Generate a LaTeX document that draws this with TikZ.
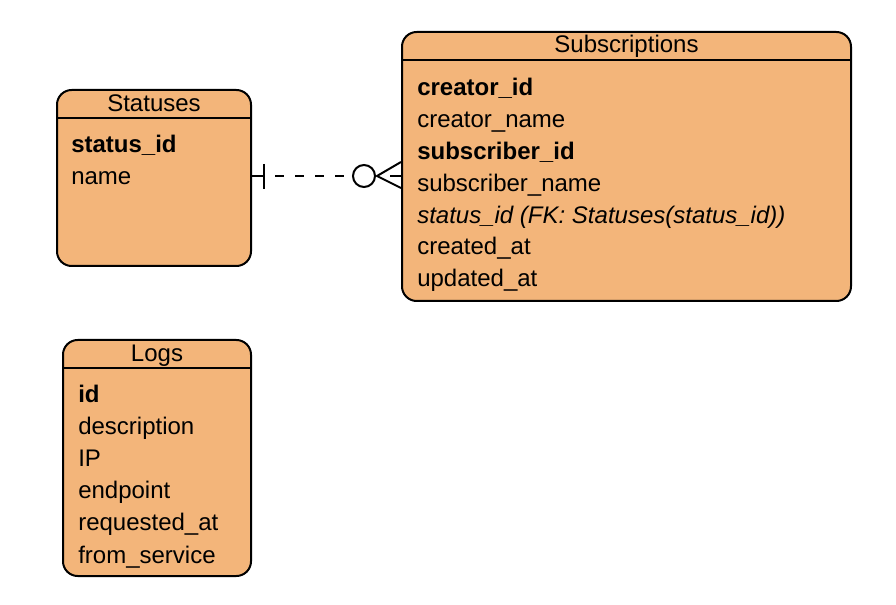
\documentclass[tikz,border=0pt]{standalone}
\usepackage{fontspec}
\setmainfont{Liberation Sans}
\usetikzlibrary{positioning}

\definecolor{tablefill}{RGB}{243,181,122}

\begin{document}
\begin{tikzpicture} [x=0.75pt,y=-0.75pt,
		table/.style={rectangle,rounded corners=11pt,draw=black,line width=1.5pt,fill=tablefill,inner sep=0pt},
		rowtext/.style={anchor=base west,inner sep=0pt,font=\fontsize{18}{20}\selectfont},
		keytext/.style={rowtext,font=\fontsize{18}{20}\selectfont\bfseries},
		fktext/.style={rowtext,font=\fontsize{18}{20}\selectfont\itshape},
		titletext/.style={anchor=base,inner sep=0pt,font=\fontsize{18}{20}\selectfont},
		relline/.style={line width=1.5pt,black}]
		
		\useasboundingbox (0,0) rectangle (896,605);
		
		% Tables
		\node[table,minimum width=145.5pt,minimum height=132pt] (statuses) at (154,178) {}; % statuses
		\node[table,minimum width=336.75pt,minimum height=201.75pt] (subs) at (626.5,166.5) {}; % subscriptions
		\node[table,minimum width=141pt,minimum height=177pt] (logs) at (157,458) {}; % logs
		
		% Header lines
		\draw[relline] (statuses.west |- 0,118) -- (statuses.east |- 0,118);
		\draw[relline] (subs.west |- 0,60) -- (subs.east |- 0,60);
		\draw[relline] (logs.west |- 0,368) -- (logs.east |- 0,368);
		
		% Titles
		\node[titletext] (statusestitle) at (154,112) {Statuses};
		\node[titletext] (substitle) at (626.5,53) {Subscriptions};
		\node[titletext] (logstitle) at (157,362) {Logs};
		
		% Fields of statuses
		\node[keytext] (statusid) at (71,153) {status\_id};
		\node[rowtext] (statusname) at (71,185) {name};
		
		% Fields of subscriptions
		\node[keytext] (creatorid) at (417,96) {creator\_id};
		\node[rowtext] (creatorname) at (417,128) {creator\_name};
		\node[keytext] (subscriberid) at (417,160) {subscriber\_id};
		\node[rowtext] (subscribername) at (417,192) {subscriber\_name};
		\node[fktext] (substatus) at (417,224) {status\_id (FK: Statuses(status\_id))};
		\node[rowtext] (createdat) at (417,255) {created\_at};
		\node[rowtext] (updatedat) at (417,287) {updated\_at};
		
		% Fields of logs
		\node[keytext] (logid) at (78,403) {id};
		\node[rowtext] (description) at (78,435) {description};
		\node[rowtext] (ip) at (78,467) {IP};
		\node[rowtext] (endpoint) at (78,499) {endpoint};
		\node[rowtext] (requestedat) at (78,531) {requested\_at};
		\node[rowtext] (fromservice) at (78,563) {from\_service};
		
		% Relation statuses -- subscriptions
		\coordinate (relstart) at (statuses.east |- 0,176);
		\coordinate (relend) at (subs.west |- 0,176);
		\coordinate (onebar) at (264,176);
		\coordinate (crowtip) at (377,176);
		\node[circle,draw,line width=1.5pt,fill=white,minimum size=16.5pt,inner sep=0pt] (zero) at (364,176) {};
		\draw[relline] (relstart) -- (onebar);
		\draw[relline] (onebar) ++(0,-12) -- ++(0,25); % one bar
		\draw[relline,dash pattern=on 6.75pt off 8.25pt,dash phase=6.75pt] (onebar) -- (zero.west);
		\draw[relline] (relend) ++(0,-14) -- (crowtip) -- ([yshift=-9pt]relend); % crow foot
		\draw[relline] (relend) -- ++(-11,0);
		\end{tikzpicture}
\end{document}
